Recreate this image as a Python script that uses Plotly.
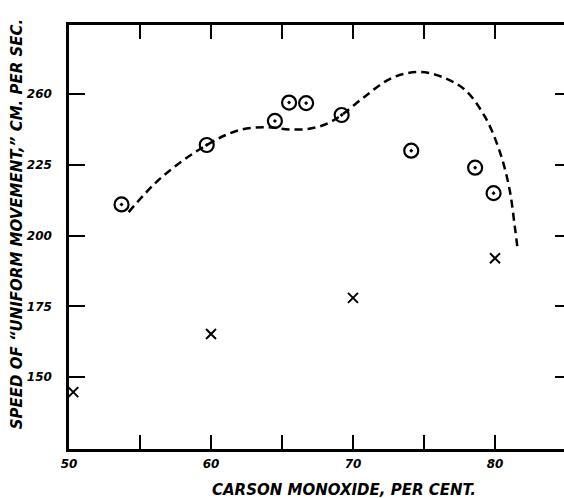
import plotly.graph_objects as go

# Data
circle_x = [53.7, 59.7, 64.5, 65.5, 66.7, 69.2, 74.1, 78.6, 79.9]
circle_y = [211, 232, 240.5, 247, 246.8, 242.6, 230, 224, 215]

cross_x = [50.3, 60.0, 70.0, 80.0]
cross_y = [144.7, 165.2, 178, 192]

curve_x = [54.2, 56.5, 59.7, 62.0, 64.0, 65.5, 67.0, 68.2, 69.2, 70.8, 72.7, 74.6, 76.3, 77.9, 79.3, 80.3, 81.0, 81.4, 81.6]
curve_y = [208.3, 220.5, 232, 237.3, 238.3, 237.5, 237.8, 239.6, 242.6, 249, 255.6, 257.8, 256, 251.4, 241.9, 230.2, 217, 203, 195]

x_tickvals = [50, 55, 60, 65, 70, 75, 80]
x_ticktext = ["50", "", "60", "", "70", "", "80"]
y_tickvals = [150, 175, 200, 225, 250]
y_ticktext = ["150", "175", "200", "225", "260"]

FONT = "DejaVu Sans"

fig = go.Figure()
fig.add_trace(go.Scatter(
    x=curve_x, y=curve_y, mode="lines",
    line=dict(color="black", width=2.5, dash="8px,5px", shape="spline", smoothing=1.0),
    showlegend=False, hoverinfo="skip"))
fig.add_trace(go.Scatter(
    x=circle_x, y=circle_y, mode="markers",
    marker=dict(symbol="circle-open-dot", size=14, color="black", line=dict(width=2.2)),
    showlegend=False))
fig.add_trace(go.Scatter(
    x=cross_x, y=cross_y, mode="markers",
    marker=dict(symbol="x-thin", size=10, color="black", line=dict(width=2, color="black")),
    showlegend=False))
# invisible trace for right-side axis ticks
fig.add_trace(go.Scatter(x=[None], y=[None], yaxis="y2", showlegend=False, hoverinfo="skip"))

tickfont = dict(family=FONT, size=12, color="black", style="italic", weight="bold")

fig.update_layout(
    width=564, height=498,
    margin=dict(l=69, r=0, t=25, b=49, autoexpand=False),
    paper_bgcolor="white", plot_bgcolor="white",
    xaxis=dict(range=[50, 84.86], tickvals=x_tickvals, ticktext=x_ticktext,
               ticks="inside", ticklen=14, tickwidth=2, tickcolor="black",
               showline=True, linewidth=2.5, linecolor="black", mirror="ticks",
               showgrid=False, zeroline=False, tickfont=tickfont, ticklabelstandoff=2),
    yaxis=dict(range=[124.6, 274.4], tickvals=y_tickvals, ticktext=y_ticktext,
               ticks="inside", ticklen=16, tickwidth=2, tickcolor="black",
               showline=True, linewidth=2.5, linecolor="black", mirror=False,
               showgrid=False, zeroline=False, tickfont=tickfont, ticklabelstandoff=12),
    yaxis2=dict(range=[124.6, 274.4], tickvals=y_tickvals, overlaying="y", side="right",
                ticks="inside", ticklen=9, tickwidth=2, tickcolor="black",
                showticklabels=False, showline=False, showgrid=False, zeroline=False),
    annotations=[
        dict(text="CARSON MONOXIDE, PER CENT.", xref="paper", yref="paper",
             x=0.555, y=-0.097, xanchor="center", yanchor="middle", showarrow=False,
             font=dict(family=FONT, size=15, color="black", style="italic", weight="bold")),
        dict(text="SPEED OF \u201cUNIFORM MOVEMENT,\u201d CM. PER SEC.", xref="paper", yref="paper",
             x=-0.105, y=0.53, xanchor="center", yanchor="middle", showarrow=False, textangle=-90,
             font=dict(family=FONT, size=15, color="black", style="italic", weight="bold")),
    ],
)

fig.write_html("out.html", config={"displayModeBar": False},
               post_script="document.body.style.margin='0';document.body.style.overflow='hidden';")
